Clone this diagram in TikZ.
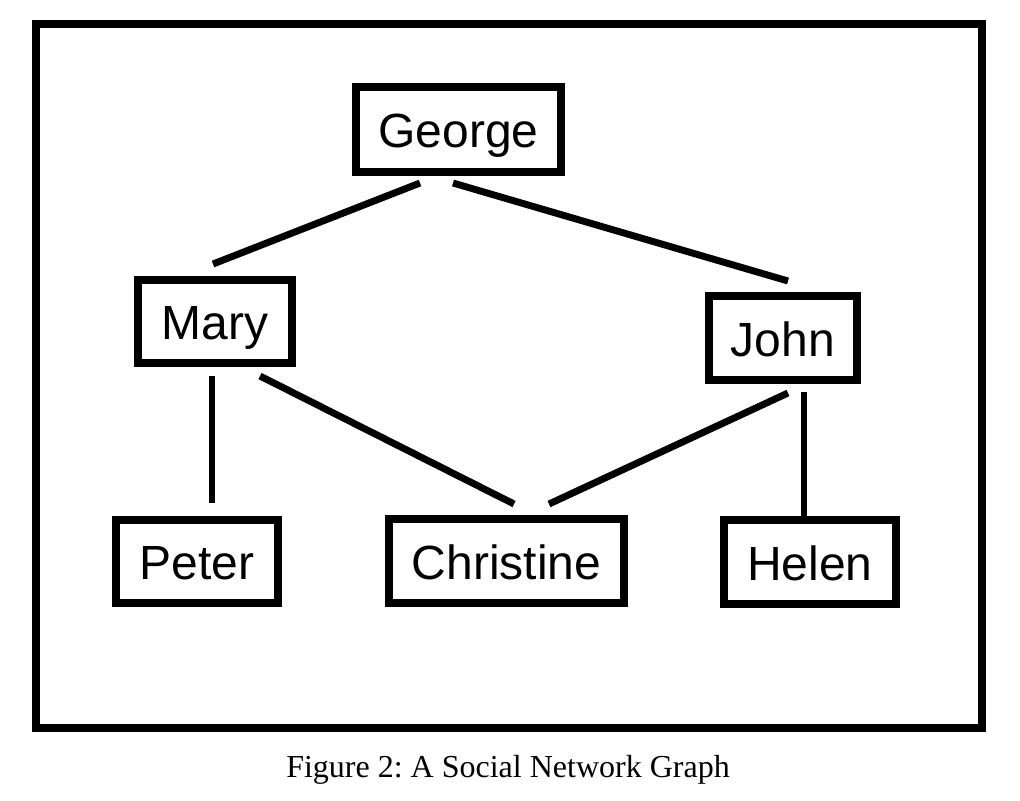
\documentclass[tikz,border=0pt]{standalone}
\usepackage{fontspec}
\setmainfont{Liberation Sans}
\newfontfamily\capfont{Liberation Serif}
\frenchspacing
\begin{document}
\begin{tikzpicture}[x=0.75pt,y=-0.75pt,
  person/.style={draw=black,line width=5.5pt,rectangle,inner sep=0pt,
    text height=27pt,text depth=0pt,
    font=\fontsize{36}{42}\selectfont},
  link/.style={line width=5.2pt,line cap=butt}]
\useasboundingbox (0,0) rectangle (1020,800);
\node[draw=black,line width=6pt,rectangle,minimum width=946pt*0.75,minimum height=704pt*0.75,inner sep=0pt] (frame) at (509,376) {};
\node[person,minimum width=205*0.75pt,minimum height=85*0.75pt] (george) at (458.5,129.5) {George};
\node[person,minimum width=154*0.75pt,minimum height=83*0.75pt] (mary) at (215,321.5) {Mary};
\node[person,minimum width=148*0.75pt,minimum height=84*0.75pt] (john) at (783,338) {John};
\node[person,minimum width=162*0.75pt,minimum height=83*0.75pt] (peter) at (197,561.5) {Peter};
\node[person,minimum width=235*0.75pt,minimum height=84*0.75pt] (christine) at (506.5,561) {Christine};
\node[person,minimum width=172*0.75pt,minimum height=84*0.75pt] (helen) at (810,562) {Helen};
\node[font=\capfont\fontsize{24}{28}\selectfont,anchor=base,inner sep=0pt] (caption) at (508,777) {Figure 2: A Social Network Graph};
% connector end points
\coordinate (gm1) at (420,183); \coordinate (gm2) at (213,264);
\coordinate (gj1) at (453,183); \coordinate (gj2) at (788,281);
\coordinate (mp1) at (212,376); \coordinate (mp2) at (212,503);
\coordinate (mc1) at (260,376); \coordinate (mc2) at (514,504);
\coordinate (jc1) at (788,393); \coordinate (jc2) at (549,504);
\coordinate (jh1) at (804,392); \coordinate (jh2) at (804,519);
\draw[link] (gm1) -- (gm2);
\draw[link] (gj1) -- (gj2);
\draw[link] (mp1) -- (mp2);
\draw[link] (mc1) -- (mc2);
\draw[link] (jc1) -- (jc2);
\draw[link] (jh1) -- (jh2);
\end{tikzpicture}
\end{document}
